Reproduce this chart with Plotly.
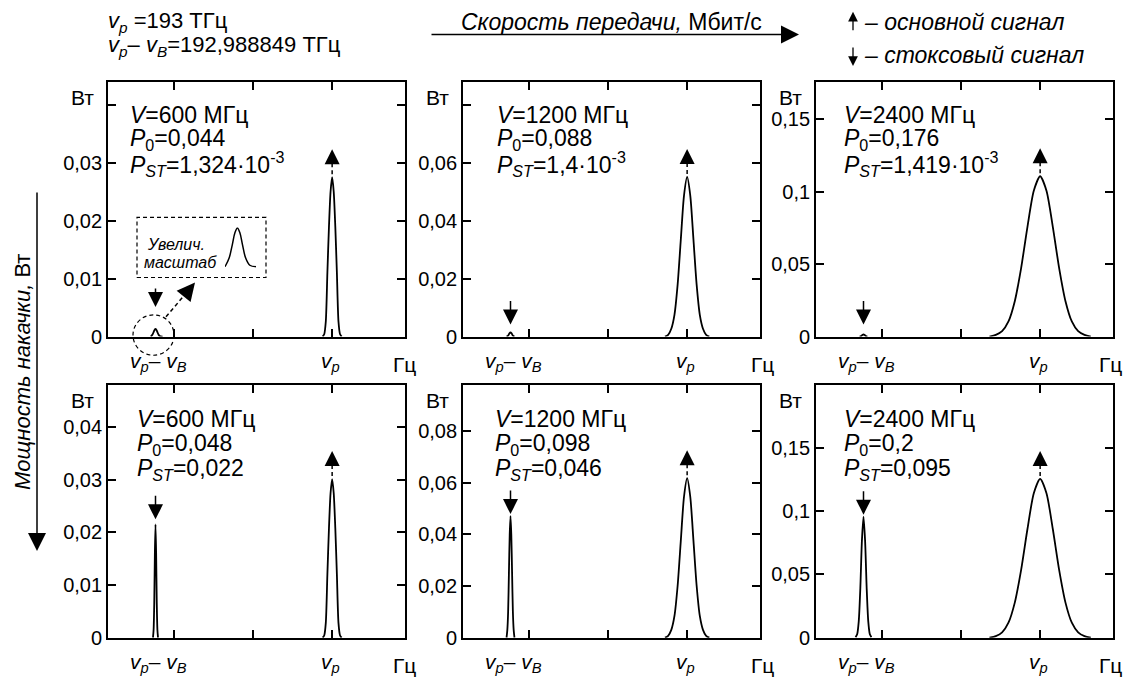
import plotly.graph_objects as go

# ---------------- data ----------------
FREQ_P_THZ = 193.0            # v_p
FREQ_STOKES_THZ = 192.988849  # v_p - v_B
RATES_MHZ = ["600", "1200", "2400", "600", "1200", "2400"]
P0_VALUES = [0.044, 0.088, 0.176, 0.048, 0.098, 0.2]      # also upper y limit of each panel
P0_TEXT = ["0,044", "0,088", "0,176", "0,048", "0,098", "0,2"]
PST_TEXT = ["1,324·10<sup>-3</sup>", "1,4·10<sup>-3</sup>", "1,419·10<sup>-3</sup>",
            "0,022", "0,046", "0,095"]

Y_TICKVALS = [
    [0, 0.01, 0.02, 0.03, 0.04],
    [0, 0.02, 0.04, 0.06, 0.08],
    [0, 0.05, 0.1, 0.15],
    [0, 0.01, 0.02, 0.03, 0.04],
    [0, 0.02, 0.04, 0.06, 0.08],
    [0, 0.05, 0.1, 0.15],
]
Y_TICKTEXT = [
    ["0", "0,01", "0,02", "0,03", ""],
    ["0", "0,02", "0,04", "0,06", ""],
    ["0", "0,05", "0,1", "0,15"],
    ["0", "0,01", "0,02", "0,03", "0,04"],
    ["0", "0,02", "0,04", "0,06", "0,08"],
    ["0", "0,05", "0,1", "0,15"],
]
X_TICKVALS_GHZ = [-10, -5, 0]          # frequency offset from v_p, GHz
X_RANGE_GHZ = [-14.15, 4.6]

# pump (main) signal peaks: offset from v_p (GHz) and power (W)
PUMP_DX_600 = [-0.6, -0.5, -0.4, -0.3, -0.2, -0.1, 0, 0.1, 0.2, 0.3, 0.4, 0.5, 0.6]
PUMP_Y_1 = [0, 0.0004, 0.0026, 0.011, 0.019, 0.025, 0.0275, 0.025, 0.019, 0.011, 0.0026, 0.0004, 0]
PUMP_Y_4 = [0, 0.0004, 0.0028, 0.012, 0.0208, 0.0274, 0.0301, 0.0274, 0.0208, 0.012, 0.0028, 0.0004, 0]

PUMP_DX_1200 = [-1.4, -1.2, -1.0, -0.8, -0.6, -0.4, -0.2, 0, 0.2, 0.4, 0.6, 0.8, 1.0, 1.2, 1.4]
PUMP_Y_2 = [0, 0.0006, 0.0027, 0.0075, 0.0179, 0.0334, 0.0486, 0.0551,
            0.0486, 0.0334, 0.0179, 0.0075, 0.0027, 0.0006, 0]
PUMP_Y_5 = [0, 0.0007, 0.003, 0.0084, 0.0201, 0.0375, 0.0545, 0.0618,
            0.0545, 0.0375, 0.0201, 0.0084, 0.003, 0.0007, 0]

PUMP_DX_2400 = [-3.2, -2.8, -2.4, -2.0, -1.6, -1.2, -0.8, -0.4, 0,
                0.4, 0.8, 1.2, 1.6, 2.0, 2.4, 2.8, 3.2]
PUMP_Y_3 = [0, 0.0011, 0.0037, 0.0104, 0.0244, 0.0473, 0.0758, 0.1007, 0.1107,
            0.1007, 0.0758, 0.0473, 0.0244, 0.0104, 0.0037, 0.0011, 0]
PUMP_Y_6 = [0, 0.0012, 0.0042, 0.0118, 0.0277, 0.0536, 0.0859, 0.1142, 0.1255,
            0.1142, 0.0859, 0.0536, 0.0277, 0.0118, 0.0042, 0.0012, 0]

# Stokes signal peaks: offset from v_p - v_B (GHz) and power (W)
STOKES_DX_1 = [-0.3, -0.2, -0.12, -0.06, 0, 0.06, 0.12, 0.2, 0.3, 0.45]
STOKES_Y_1 = [0, 0.00029, 0.00076, 0.00114, 0.0013, 0.00114, 0.00076, 0.00029, 0.00005, 0]
STOKES_DX_2 = [-0.25, -0.15, -0.07, 0, 0.07, 0.15, 0.25]
STOKES_Y_2 = [0, 0.0003, 0.0011, 0.0014, 0.0011, 0.0003, 0]
STOKES_DX_3 = [-0.25, -0.15, -0.07, 0, 0.07, 0.15, 0.25]
STOKES_Y_3 = [0, 0.0003, 0.0011, 0.0014, 0.0011, 0.0003, 0]
STOKES_DX_4 = [-0.16, -0.12, -0.08, -0.04, 0, 0.04, 0.08, 0.12, 0.16]
STOKES_Y_4 = [0, 0.0015, 0.0065, 0.016, 0.0215, 0.016, 0.0065, 0.0015, 0]
STOKES_DX_5 = [-0.25, -0.2, -0.15, -0.1, -0.05, 0, 0.05, 0.1, 0.15, 0.2, 0.25]
STOKES_Y_5 = [0, 0.003, 0.010, 0.025, 0.040, 0.0471, 0.040, 0.025, 0.010, 0.003, 0]
STOKES_DX_6 = [-0.5, -0.4, -0.3, -0.2, -0.1, 0, 0.1, 0.2, 0.3, 0.4, 0.5]
STOKES_Y_6 = [0.0004, 0.0027, 0.0129, 0.0393, 0.0767, 0.0957, 0.0767, 0.0393, 0.0129, 0.0027, 0.0004]

PUMP_DX = [PUMP_DX_600, PUMP_DX_1200, PUMP_DX_2400, PUMP_DX_600, PUMP_DX_1200, PUMP_DX_2400]
PUMP_Y = [PUMP_Y_1, PUMP_Y_2, PUMP_Y_3, PUMP_Y_4, PUMP_Y_5, PUMP_Y_6]
STOKES_DX = [STOKES_DX_1, STOKES_DX_2, STOKES_DX_3, STOKES_DX_4, STOKES_DX_5, STOKES_DX_6]
STOKES_Y = [STOKES_Y_1, STOKES_Y_2, STOKES_Y_3, STOKES_Y_4, STOKES_Y_5, STOKES_Y_6]

# ---------------- layout geometry (pixels) ----------------
W, H = 1123, 688
COLS = [(108, 405), (463, 760), (816, 1113)]
ROWS = [(83, 342), (391, 648)]
FONT = "Liberation Sans, Arial, sans-serif"
BLACK = "black"


def PX(x):
    return x / W


def PY(y):
    return 1 - y / H


PUMP_GHZ = 0.0
STOKES_GHZ = (FREQ_STOKES_THZ - FREQ_P_THZ) * 1000.0

fig = go.Figure()
layout_axes = {}
annotations = []
shapes = []

LINE = dict(color=BLACK, width=1.8, shape="spline", smoothing=0.7)
ARROW = dict(showarrow=True, arrowhead=2, arrowcolor=BLACK, arrowwidth=1.5)

# text placement per panel (pixels)
TEXT_X = [128, 495, 842, 135, 493, 842]
TEXT_Y = [(117, 142, 167), (117, 142, 167), (117, 142, 167),
          (426, 452, 477), (426, 452, 477), (426, 452, 477)]
STOKES_ARROW_SHIFT = [22, 8, 10, 5, 2, 2]
STOKES_ARROW_LEN = [20, 25, 25, 25, 25, 25]
HZ_X_SHIFT = [-1, 2, -3]

for i in range(6):
    r, c = divmod(i, 3)
    n = "" if i == 0 else str(i + 1)
    xa, ya = "x" + n, "y" + n
    (x0, x1), (y0, y1) = COLS[c], ROWS[r]
    layout_axes["xaxis" + n] = dict(
        domain=[PX(x0), PX(x1)], anchor=ya, range=X_RANGE_GHZ,
        tickvals=X_TICKVALS_GHZ, showticklabels=False,
        ticks="inside", ticklen=8, tickwidth=1.5, tickcolor=BLACK,
        showline=True, linecolor=BLACK, linewidth=1.8, mirror="ticks",
        showgrid=False, zeroline=False)
    layout_axes["yaxis" + n] = dict(
        domain=[PY(y1), PY(y0)], anchor=xa, range=[0, P0_VALUES[i]],
        tickvals=Y_TICKVALS[i], ticktext=Y_TICKTEXT[i],
        ticks="inside", ticklen=8, tickwidth=1.5, tickcolor=BLACK,
        tickfont=dict(family=FONT, size=20, color=BLACK),
        showline=True, linecolor=BLACK, linewidth=1.8, mirror="ticks",
        showgrid=False, zeroline=False)

    fig.add_trace(go.Scatter(
        x=[PUMP_GHZ + d for d in PUMP_DX[i]], y=PUMP_Y[i], mode="lines",
        line=LINE, xaxis=xa, yaxis=ya, showlegend=False, hoverinfo="skip"))
    fig.add_trace(go.Scatter(
        x=[STOKES_GHZ + d for d in STOKES_DX[i]], y=STOKES_Y[i], mode="lines",
        line=LINE, xaxis=xa, yaxis=ya, showlegend=False, hoverinfo="skip"))

    # panel texts
    tx = PX(TEXT_X[i])
    lines = [f"<i>V</i>={RATES_MHZ[i]} МГц",
             f"<i>P</i><sub>0</sub>={P0_TEXT[i]}",
             f"<i>P</i><sub><i>ST</i></sub>={PST_TEXT[i]}"]
    for t, yy in zip(lines, TEXT_Y[i]):
        annotations.append(dict(text=t, x=tx, y=PY(yy), xref="paper", yref="paper",
                                xanchor="left", yanchor="middle", showarrow=False,
                                font=dict(family=FONT, size=23, color=BLACK)))
    # "Вт" unit label
    annotations.append(dict(text="Вт", x=PX(x0 - 12), y=PY(y0 + 16), xref="paper", yref="paper",
                            xanchor="right", yanchor="middle", showarrow=False,
                            font=dict(family=FONT, size=21, color=BLACK)))
    # x labels
    ylab = PY(y1 + 26)
    annotations.append(dict(text="<i>v</i><sub><i>p</i></sub>– <i>v</i><sub><i>B</i></sub>",
                            x=STOKES_GHZ, y=ylab, xref=xa, yref="paper",
                            xanchor="center", yanchor="middle", showarrow=False, xshift=3,
                            font=dict(family=FONT, size=21, color=BLACK)))
    annotations.append(dict(text="<i>v</i><sub><i>p</i></sub>",
                            x=PUMP_GHZ, y=ylab, xref=xa, yref="paper",
                            xanchor="center", yanchor="middle", showarrow=False, xshift=-2,
                            font=dict(family=FONT, size=21, color=BLACK)))
    annotations.append(dict(text="Гц", x=PX(x1 + HZ_X_SHIFT[c]), y=PY(y1 + 28),
                            xref="paper", yref="paper",
                            xanchor="center", yanchor="middle", showarrow=False,
                            font=dict(family=FONT, size=21, color=BLACK)))

    # up arrow over pump peak (dashed shaft + head)
    peak = max(PUMP_Y[i])
    shapes.append(dict(type="line", xref=xa, yref=ya, x0=PUMP_GHZ, x1=PUMP_GHZ,
                       ysizemode="pixel", yanchor=peak, y0=3, y1=16,
                       line=dict(color=BLACK, width=1.5, dash="4px,3px")))
    annotations.append(dict(text="", x=PUMP_GHZ, y=peak, xref=xa, yref=ya,
                            yshift=28, ax=0, ay=12, arrowsize=2.0, **ARROW))
    # down arrow over Stokes peak
    speak = max(STOKES_Y[i])
    annotations.append(dict(text="", x=STOKES_GHZ, y=speak, xref=xa, yref=ya,
                            yshift=STOKES_ARROW_SHIFT[i], ax=0, ay=-STOKES_ARROW_LEN[i],
                            arrowsize=2.0, **ARROW))

# inset: magnified Stokes peak of panel 1
layout_axes["xaxis7"] = dict(domain=[PX(225), PX(256)], anchor="y7", visible=False,
                             range=[-0.3, 0.45], fixedrange=True)
layout_axes["yaxis7"] = dict(domain=[PY(272), PY(231)], anchor="x7", visible=False,
                             range=[-0.00003, 0.00132], fixedrange=True)
fig.add_trace(go.Scatter(x=STOKES_DX_1, y=STOKES_Y_1, mode="lines",
                         line=dict(color=BLACK, width=1.5, shape="spline", smoothing=1.0),
                         xaxis="x7", yaxis="y7", showlegend=False, hoverinfo="skip"))

# inset decorations
shapes.append(dict(type="rect", xref="paper", yref="paper",
                   x0=PX(137), x1=PX(266), y0=PY(282), y1=PY(221),
                   line=dict(color=BLACK, width=1.2, dash="4px,3px")))
shapes.append(dict(type="circle", xref="paper", yref="paper",
                   x0=PX(133), x1=PX(174), y0=PY(361), y1=PY(320),
                   line=dict(color=BLACK, width=1.2, dash="4px,3px")))
shapes.append(dict(type="line", xref="paper", yref="paper",
                   x0=PX(166), y0=PY(322), x1=PX(186), y1=PY(298),
                   line=dict(color=BLACK, width=1.5, dash="4px,3px")))
annotations.append(dict(text="", x=PX(195), y=PY(287), xref="paper", yref="paper",
                        ax=-9, ay=11, arrowsize=2.4, **ARROW))
annotations.append(dict(text="<i>Увелич.</i>", x=PX(176), y=PY(248), xref="paper", yref="paper",
                        showarrow=False, xanchor="center", yanchor="middle",
                        font=dict(family=FONT, size=16, color=BLACK)))
annotations.append(dict(text="<i>масштаб</i>", x=PX(180), y=PY(267), xref="paper", yref="paper",
                        showarrow=False, xanchor="center", yanchor="middle",
                        font=dict(family=FONT, size=16, color=BLACK)))

# header texts
annotations.append(dict(text="<i>v</i><sub><i>p</i></sub> =193 ТГц", x=PX(106), y=PY(22),
                        xref="paper", yref="paper", xanchor="left", yanchor="middle",
                        showarrow=False, font=dict(family=FONT, size=22, color=BLACK)))
annotations.append(dict(text="<i>v</i><sub><i>p</i></sub>– <i>v</i><sub><i>B</i></sub>=192,988849 ТГц",
                        x=PX(106), y=PY(47), xref="paper", yref="paper", xanchor="left",
                        yanchor="middle", showarrow=False,
                        font=dict(family=FONT, size=22, color=BLACK)))
annotations.append(dict(text="<i>Скорость передачи,</i> Мбит/с", x=PX(459), y=PY(22),
                        xref="paper", yref="paper", xanchor="left", yanchor="middle",
                        showarrow=False, font=dict(family=FONT, size=23, color=BLACK)))
annotations.append(dict(text="", x=PX(799), y=PY(35), xref="paper", yref="paper",
                        ax=-369, ay=0, arrowsize=2.4, **ARROW))
annotations.append(dict(text="<i>– основной сигнал</i>", x=PX(862), y=PY(22),
                        xref="paper", yref="paper", xanchor="left", yanchor="middle",
                        showarrow=False, font=dict(family=FONT, size=23, color=BLACK)))
annotations.append(dict(text="<i>– стоксовый сигнал</i>", x=PX(862), y=PY(56),
                        xref="paper", yref="paper", xanchor="left", yanchor="middle",
                        showarrow=False, font=dict(family=FONT, size=23, color=BLACK)))
annotations.append(dict(text="", x=PX(853), y=PY(12), xref="paper", yref="paper",
                        ax=0, ay=20, showarrow=True, arrowhead=2, arrowsize=1.5,
                        arrowwidth=1.3, arrowcolor=BLACK))
annotations.append(dict(text="", x=PX(853), y=PY(67), xref="paper", yref="paper",
                        ax=0, ay=-20, showarrow=True, arrowhead=2, arrowsize=1.5,
                        arrowwidth=1.3, arrowcolor=BLACK))

# vertical axis title with arrow
annotations.append(dict(text="<i>Мощность накачки,</i> Вт", x=PX(23), y=PY(378),
                        xref="paper", yref="paper", xanchor="center", yanchor="middle",
                        textangle=-90, showarrow=False,
                        font=dict(family=FONT, size=22, color=BLACK)))
annotations.append(dict(text="", x=PX(37), y=PY(560), xref="paper", yref="paper",
                        ax=0, ay=-360, arrowsize=2.4, **ARROW))

fig.update_layout(
    width=W, height=H, margin=dict(l=0, r=0, t=0, b=0),
    paper_bgcolor="white", plot_bgcolor="white",
    font=dict(family=FONT, color=BLACK),
    annotations=annotations, shapes=shapes, showlegend=False,
    **layout_axes)

fig.write_html("out.html", config={"displayModeBar": False},
               post_script="document.body.style.margin='0';document.body.style.overflow='hidden';")
